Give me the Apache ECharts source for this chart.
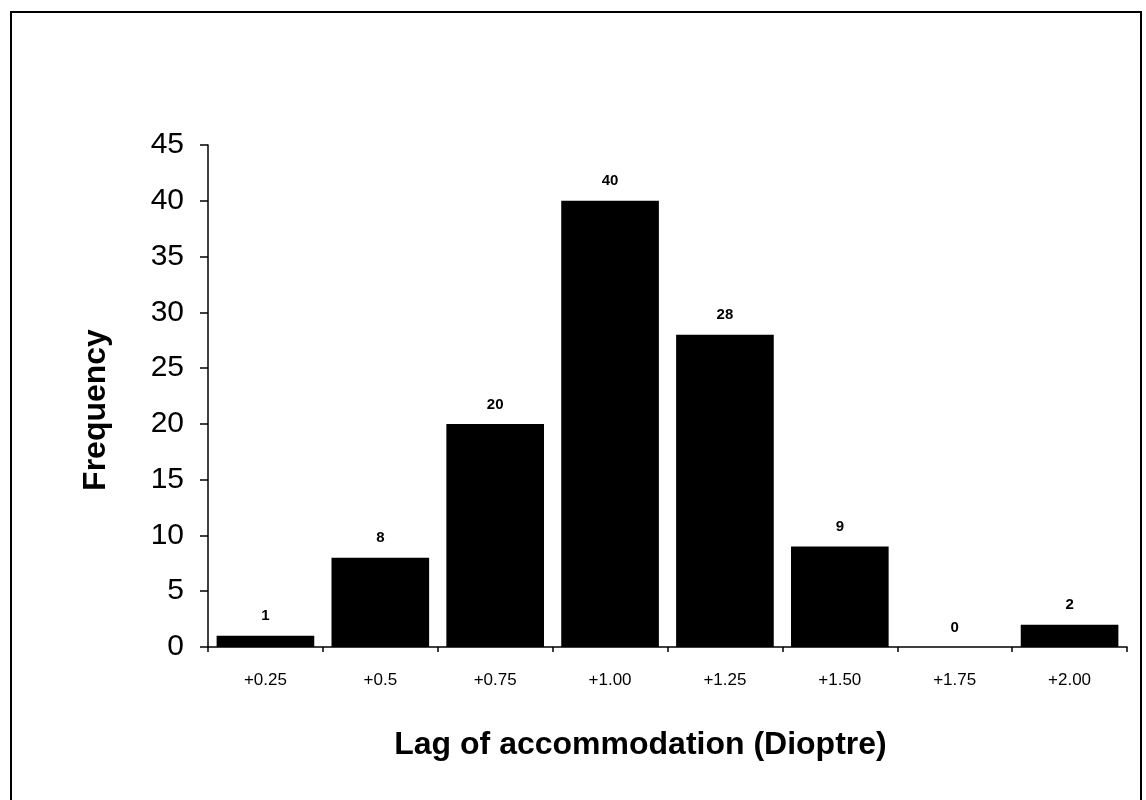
<!DOCTYPE html>
<html>
<head>
<meta charset="utf-8">
<script src="https://cdn.jsdelivr.net/npm/echarts@6/dist/echarts.min.js"></script>
<style>
html,body{margin:0;padding:0;background:#fff;}
#chart{width:1146px;height:800px;}
</style>
</head>
<body>
<div id="chart"></div>
<script>
var categories = ['+0.25', '+0.5', '+0.75', '+1.00', '+1.25', '+1.50', '+1.75', '+2.00'];
var frequency = [1, 8, 20, 40, 28, 9, 0, 2];
var xTitle = 'Lag of accommodation (Dioptre)';
var yTitle = 'Frequency';

var chart = echarts.init(document.getElementById('chart'), null, {renderer: 'canvas'});
var font = '"Liberation Sans", Arial, sans-serif';
chart.setOption({
  animation: false,
  backgroundColor: '#fff',
  graphic: [{
    type: 'rect',
    shape: {x: 11, y: 12, width: 1130, height: 820},
    style: {fill: 'none', stroke: '#000', lineWidth: 2},
    silent: true
  }],
  grid: {left: 208, right: 19, top: 145, bottom: 153},
  xAxis: {
    type: 'category',
    data: categories,
    name: xTitle,
    nameLocation: 'middle',
    nameGap: 82,
    nameTextStyle: {fontFamily: font, fontWeight: 'bold', fontSize: 32, color: '#000', padding: [0, 54, 0, 0]},
    axisLine: {lineStyle: {color: '#000', width: 1.5}},
    axisTick: {show: true, length: 5, lineStyle: {color: '#000', width: 1.5}},
    axisLabel: {fontFamily: font, fontSize: 17, color: '#000', margin: 25},
    splitLine: {show: false}
  },
  yAxis: {
    type: 'value',
    min: 0, max: 45, interval: 5,
    name: yTitle,
    nameLocation: 'middle',
    nameGap: 96,
    nameRotate: 90,
    nameTextStyle: {fontFamily: font, fontWeight: 'bold', fontSize: 32, color: '#000', padding: [0, 28, 0, 0]},
    axisLine: {show: true, lineStyle: {color: '#000', width: 1.5}},
    axisTick: {show: true, length: 8, lineStyle: {color: '#000', width: 1.5}},
    axisLabel: {fontFamily: font, fontSize: 30, color: '#000', margin: 24},
    splitLine: {show: false}
  },
  series: [{
    type: 'bar',
    data: frequency,
    barCategoryGap: '15%',
    itemStyle: {color: '#000'},
    label: {
      show: true,
      position: 'top',
      distance: 12,
      fontFamily: font,
      fontWeight: 'bold',
      fontSize: 15,
      color: '#000'
    }
  }]
});
</script>
</body>
</html>
